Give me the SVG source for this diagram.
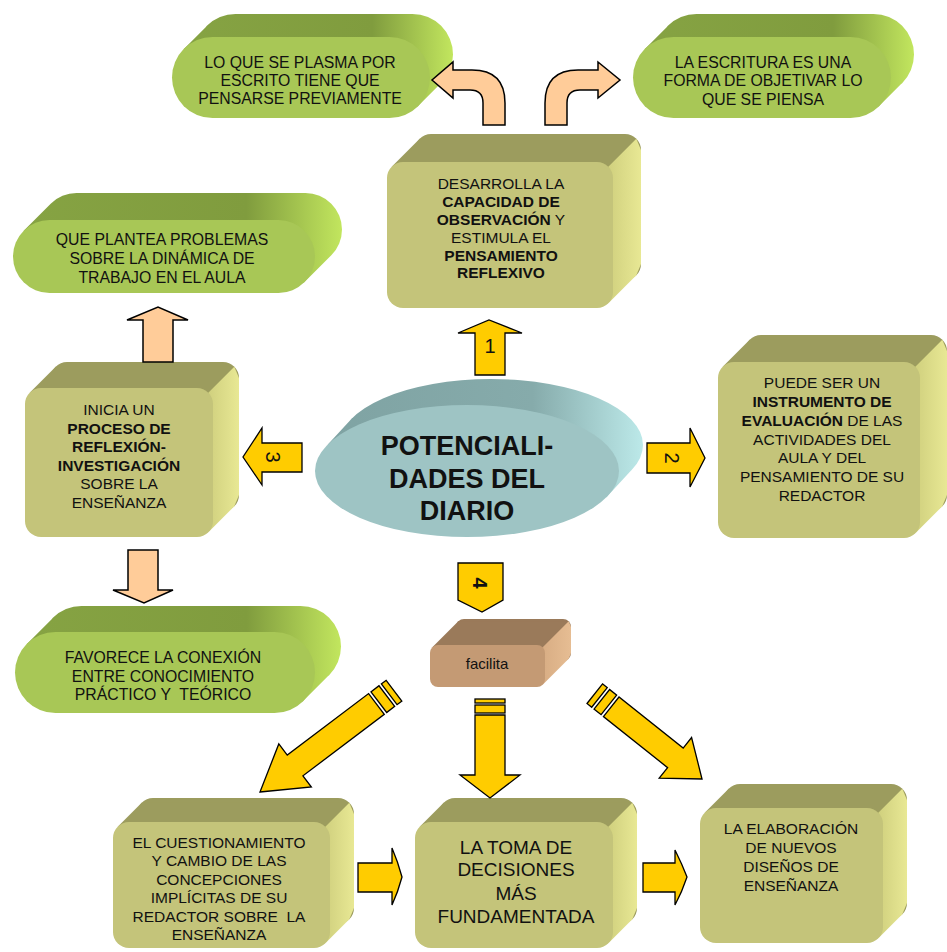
<svg xmlns="http://www.w3.org/2000/svg" width="947" height="952" viewBox="0 0 947 952">
<defs>
<linearGradient id="pillBack" x1="0" y1="0" x2="1" y2="0">
<stop offset="0" stop-color="#86a343"/><stop offset="0.7" stop-color="#809c3e"/><stop offset="1" stop-color="#c2e65e"/>
</linearGradient>
<linearGradient id="boxSide" x1="0" y1="0" x2="1" y2="0">
<stop offset="0" stop-color="#d0d07e"/><stop offset="1" stop-color="#e8e894"/>
</linearGradient>
<linearGradient id="ellBack" x1="0" y1="0" x2="1" y2="0">
<stop offset="0" stop-color="#7fa3a3"/><stop offset="0.65" stop-color="#86abab"/><stop offset="1" stop-color="#bce9e9"/>
</linearGradient>
<linearGradient id="facSide" x1="0" y1="0" x2="1" y2="0">
<stop offset="0" stop-color="#d8ad84"/><stop offset="1" stop-color="#e6bd93"/>
</linearGradient>
</defs>
<style>
.t{font-family:"Liberation Sans",Arial,sans-serif;font-size:15.5px;fill:#111;text-anchor:middle}
.p{font-size:15.8px}
.b{font-weight:bold}
.big{font-size:19px}
.title{font-size:27px;font-weight:bold}
.num{font-size:20px}
.fac{font-size:15px}
.pre{white-space:pre}
.pback{fill:url(#pillBack)}
.pfront{fill:#a8c756}
.bk{fill:#9c9c5e}
.tp{fill:#9c9c5e}
.sd{fill:url(#boxSide)}
.fr{fill:#c4c47a}
.ya{fill:#ffcc00;stroke:#000;stroke-width:1.3;stroke-linejoin:miter}
.pa{fill:#ffcc99;stroke:#000;stroke-width:1.5}
</style>

<!-- pills -->
<g id="pill-plasma">
<path class="pback" d="M235.5,14 H412.5 A40.5 40.5 0 0 1 412.5,95 H235.5 A40.5 40.5 0 0 1 235.5,14 Z M183.9,48.9 L206.9,25.9 L441.1,83.1 L418.1,106.1 Z"/>
<rect class="pfront" x="172" y="37" width="258" height="81" rx="40.5"/>
<text class="t p" x="300" y="68">LO QUE SE PLASMA POR</text>
<text class="t p" x="300" y="86">ESCRITO TIENE QUE</text>
<text class="t p" x="300" y="104">PENSARSE PREVIAMENTE</text>
</g>
<g id="pill-escritura">
<path class="pback" d="M696.5,14 H873.5 A40.5 40.5 0 0 1 873.5,95 H696.5 A40.5 40.5 0 0 1 696.5,14 Z M644.9,48.9 L667.9,25.9 L902.1,83.1 L879.1,106.1 Z"/>
<rect class="pfront" x="633" y="37" width="258" height="81" rx="40.5"/>
<text class="t p" x="763" y="68">LA ESCRITURA ES UNA</text>
<text class="t p" x="763" y="86">FORMA DE OBJETIVAR LO</text>
<text class="t p" x="763" y="105">QUE SE PIENSA</text>
</g>
<g id="pill-problemas">
<path class="pback" d="M76.5,193 H305.5 A36.5 36.5 0 0 1 305.5,266 H76.5 A36.5 36.5 0 0 1 76.5,193 Z M23.7,230.7 L50.7,203.7 L331.3,255.3 L304.3,282.3 Z"/>
<rect class="pfront" x="13" y="220" width="302" height="73" rx="36.5"/>
<text class="t p" x="162" y="245">QUE PLANTEA PROBLEMAS</text>
<text class="t p" x="162" y="264">SOBRE LA DINÁMICA DE</text>
<text class="t p" x="162" y="283">TRABAJO EN EL AULA</text>
</g>
<g id="pill-conexion">
<path class="pback" d="M81.5,606 H300.5 A40.5 40.5 0 0 1 300.5,687 H81.5 A40.5 40.5 0 0 1 81.5,606 Z M26.9,643.9 L52.9,617.9 L329.1,675.1 L303.1,701.1 Z"/>
<rect class="pfront" x="15" y="632" width="300" height="81" rx="40.5"/>
<text class="t p" x="163" y="663">FAVORECE LA CONEXIÓN</text>
<text class="t p" x="163" y="682">ENTRE CONOCIMIENTO</text>
<text class="t p pre" x="163" y="700">PRÁCTICO Y  TEÓRICO</text>
</g>

<!-- boxes -->
<g id="box-observacion">
<rect class="bk" x="415" y="134" width="226" height="146" rx="16"/>
<polygon class="tp" points="391.7,166.7 419.7,138.7 636.3,138.7 608.3,166.7"/>
<polygon class="sd" points="608.3,166.7 636.3,138.7 641,150 641,264 636.3,275.3 608.3,303.3"/>
<rect class="fr" x="387" y="162" width="226" height="146" rx="16"/>
<text class="t" x="501" y="189">DESARROLLA LA</text>
<text class="t b" x="501" y="207">CAPACIDAD DE</text>
<text class="t" x="501" y="225"><tspan class="b">OBSERVACIÓN</tspan> Y</text>
<text class="t" x="501" y="243">ESTIMULA EL</text>
<text class="t b" x="501" y="261">PENSAMIENTO</text>
<text class="t b" x="501" y="278">REFLEXIVO</text>
</g>
<g id="box-reflexion">
<rect class="bk" x="51" y="362" width="188" height="149" rx="16"/>
<polygon class="tp" points="29.7,392.7 55.7,366.7 234.3,366.7 208.3,392.7"/>
<polygon class="sd" points="208.3,392.7 234.3,366.7 239,378 239,495 234.3,506.3 208.3,532.3"/>
<rect class="fr" x="25" y="388" width="188" height="149" rx="16"/>
<text class="t" x="119" y="415">INICIA UN</text>
<text class="t b" x="119" y="434">PROCESO DE</text>
<text class="t b" x="119" y="452">REFLEXIÓN-</text>
<text class="t b" x="119" y="471">INVESTIGACIÓN</text>
<text class="t" x="119" y="489">SOBRE LA</text>
<text class="t" x="119" y="508">ENSEÑANZA</text>
</g>
<g id="box-evaluacion">
<rect class="bk" x="745" y="335" width="202" height="176" rx="16"/>
<polygon class="tp" points="722.7,366.7 749.7,339.7 942.3,339.7 915.3,366.7"/>
<polygon class="sd" points="915.3,366.7 942.3,339.7 947,351 947,495 942.3,506.3 915.3,533.3"/>
<rect class="fr" x="718" y="362" width="202" height="176" rx="16"/>
<text class="t" x="822" y="388">PUEDE SER UN</text>
<text class="t b" x="822" y="407">INSTRUMENTO DE</text>
<text class="t" x="822" y="426"><tspan class="b">EVALUACIÓN</tspan> DE LAS</text>
<text class="t" x="822" y="445">ACTIVIDADES DEL</text>
<text class="t" x="822" y="463">AULA Y DEL</text>
<text class="t" x="822" y="482">PENSAMIENTO DE SU</text>
<text class="t" x="822" y="501">REDACTOR</text>
</g>
<g id="box-cuestionamiento">
<rect class="bk" x="137" y="798" width="217" height="126" rx="16"/>
<polygon class="tp" points="117.7,826.7 141.7,802.7 349.3,802.7 325.3,826.7"/>
<polygon class="sd" points="325.3,826.7 349.3,802.7 354,814 354,908 349.3,919.3 325.3,943.3"/>
<rect class="fr" x="113" y="822" width="217" height="126" rx="16"/>
<text class="t" x="219" y="848">EL CUESTIONAMIENTO</text>
<text class="t" x="219" y="866">Y CAMBIO DE LAS</text>
<text class="t" x="219" y="885">CONCEPCIONES</text>
<text class="t" x="219" y="903">IMPLÍCITAS DE SU</text>
<text class="t pre" x="219" y="922">REDACTOR SOBRE  LA</text>
<text class="t" x="219" y="940">ENSEÑANZA</text>
</g>
<g id="box-decisiones">
<rect class="bk" x="439" y="798" width="198" height="126" rx="16"/>
<polygon class="tp" points="419.7,826.7 443.7,802.7 632.3,802.7 608.3,826.7"/>
<polygon class="sd" points="608.3,826.7 632.3,802.7 637,814 637,908 632.3,919.3 608.3,943.3"/>
<rect class="fr" x="415" y="822" width="198" height="126" rx="16"/>
<text class="t big" x="516" y="854">LA TOMA DE</text>
<text class="t big" x="516" y="876">DECISIONES</text>
<text class="t big" x="516" y="900">MÁS</text>
<text class="t big" x="516" y="923">FUNDAMENTADA</text>
</g>
<g id="box-disenos">
<rect class="bk" x="724" y="784" width="183" height="135" rx="16"/>
<polygon class="tp" points="704.7,812.7 728.7,788.7 902.3,788.7 878.3,812.7"/>
<polygon class="sd" points="878.3,812.7 902.3,788.7 907,800 907,903 902.3,914.3 878.3,938.3"/>
<rect class="fr" x="700" y="808" width="183" height="135" rx="16"/>
<text class="t" x="791" y="834">LA ELABORACIÓN</text>
<text class="t" x="791" y="853">DE NUEVOS</text>
<text class="t" x="791" y="872">DISEÑOS DE</text>
<text class="t" x="791" y="891">ENSEÑANZA</text>
</g>
<g id="box-facilita">
<rect x="456" y="619" width="115" height="42" rx="8" fill="#9a7a5a"/>
<polygon points="432.3,647.3 458.3,621.3 568.7,621.3 542.7,647.3" fill="#9a7a5a"/>
<polygon points="542.7,647.3 568.7,621.3 571,627 571,653 568.7,658.7 542.7,684.7" fill="url(#facSide)"/>
<rect x="430" y="645" width="115" height="42" rx="8" fill="#c49a74"/>
<text class="t fac" x="487" y="669">facilita</text>
</g>

<!-- central ellipse -->
<g id="center">
<path fill="url(#ellBack)" d="M339,445 A152 66 0 0 1 643,445 A152 66 0 0 1 339,445 Z M327.6,444.7 L351.6,418.7 L630.4,471.3 L606.4,497.3 Z"/>
<ellipse cx="467" cy="471" rx="152" ry="66" fill="#9ec4c4"/>
<text class="t title" x="467" y="455">POTENCIALI-</text>
<text class="t title" x="467" y="488">DADES DEL</text>
<text class="t title" x="467" y="520">DIARIO</text>
</g>

<!-- connectors -->
<g id="connectors">
<path class="pa" d="M505,125 L505,103 Q505,70 472,70 L453,70 L453,62 L432,80 L453,98 L453,90 L470,90 Q483,90 483,103 L483,125 Z"/>
<path class="pa" d="M545,125 L545,103 Q545,70 578,70 L598,70 L598,62 L620,80 L598,98 L598,90 L580,90 Q567,90 567,103 L567,125 Z"/>
<path class="pa" d="M143,362 L143,320 L127,320 L158,307 L188,320 L173,320 L173,362 Z"/>
<path class="pa" d="M128,550 L158,550 L158,590 L173,590 L144,603 L113,590 L128,590 Z"/>
<g>
<path class="ya" d="M475,375 L505,375 L505,333 L522,333 L489,320 L458,333 L475,333 Z"/>
<text class="t num" x="490" y="353">1</text>
</g>
<g>
<path class="ya" d="M647,443 L690,443 L690,428 L705,458 L690,487 L690,473 L647,473 Z"/>
<text class="t num" transform="translate(672,458) rotate(90)" y="7">2</text>
</g>
<g>
<path class="ya" d="M302,443 L262,443 L262,428 L243,457 L262,485 L262,472 L302,472 Z"/>
<text class="t num" transform="translate(273,457) rotate(90)" y="7">3</text>
</g>
<g>
<path class="ya" d="M458,563 L503,563 L503,600 L482,612 L458,600 Z"/>
<text class="t num b" transform="translate(480,583) rotate(90)" y="7">4</text>
</g>
<g>
<rect class="ya" x="475" y="699" width="30" height="4"/>
<rect class="ya" x="475" y="705" width="30" height="8"/>
<path class="ya" d="M475,715 L505,715 L505,775 L520,775 L490,798 L460,775 L475,775 Z"/>
</g>
<g transform="translate(260,792) rotate(142.9)">
<path class="ya" d="M0,0 L-44,-27 L-44,-13 L-146,-13 L-146,13 L-44,13 L-44,27 Z"/>
<rect class="ya" x="-159" y="-13" width="10" height="26"/>
<rect class="ya" x="-168" y="-13" width="6" height="26"/>
</g>
<g transform="translate(702,779) rotate(38.5)">
<path class="ya" d="M0,0 L-34,-26 L-34,-12.5 L-116,-12.5 L-116,12.5 L-34,12.5 L-34,26 Z"/>
<rect class="ya" x="-128" y="-12.5" width="9" height="25"/>
<rect class="ya" x="-137" y="-12.5" width="6" height="25"/>
</g>
<path class="ya" d="M358,863 L392,863 L392,848 Q398,862 402,877 Q398,892 392,905 L392,892 L358,892 Z"/>
<path class="ya" d="M643,863 L675,863 L675,850 Q682,864 687,877 Q682,892 675,905 L675,892 L643,892 Z"/>
</g>
</svg>
